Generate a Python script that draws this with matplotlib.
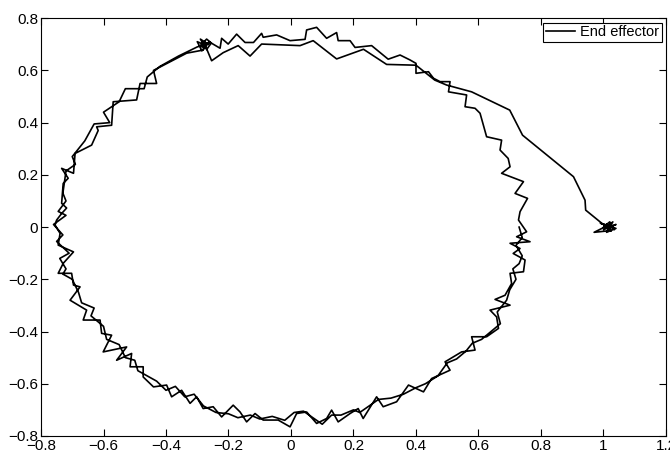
import numpy as np
import matplotlib.pyplot as plt

# End effector path

# start jitter at the right, then the approach to the top of the circle
approach_x = [1.02, 1.04, 1.00, 1.03, 1.01, 1.04, 0.99, 1.03, 1.02, 0.97, 1.01, 1.03, 1.00, 1.02,
              1.035, 1.01, 1.025, 0.943, 0.941, 0.904, 0.741, 0.70, 0.578, 0.498]
approach_y = [0.00, 0.01, -0.01, 0.02, -0.02, -0.005, 0.015, 0.0, 0.01, -0.02, -0.015, 0.005, 0.0, 0.02,
              -0.01, 0.012, -0.015, 0.065, 0.103, 0.193, 0.352, 0.448, 0.518, 0.544]

# smoother inner line across the top
top_inner_x = [0.46, 0.40, 0.306, 0.232, 0.146, 0.071, 0.029, -0.094, -0.131, -0.169, -0.217, -0.254, -0.275]
top_inner_y = [0.563, 0.62, 0.623, 0.681, 0.644, 0.714, 0.695, 0.701, 0.655, 0.695, 0.668, 0.637, 0.697]

# tangle near the top left
knot_x = [-0.26, -0.285, -0.265, -0.29, -0.27, -0.255, -0.28, -0.30, -0.285, -0.27]
knot_y = [0.71, 0.69, 0.70, 0.72, 0.68, 0.705, 0.70, 0.71, 0.675, 0.70]

# first lap: left, bottom, right, outer top
lap1_x = [-0.281, -0.334, -0.387, -0.44, -0.43, -0.483, -0.494, -0.569, -0.574, -0.622, -0.617, -0.638,
          -0.691, -0.696, -0.734, -0.713, -0.729, -0.734, -0.718, -0.734, -0.75, -0.755, -0.739, -0.745,
          -0.696, -0.729, -0.745, -0.702, -0.696, -0.675, -0.707, -0.654, -0.665, -0.611, -0.606, -0.574,
          -0.601, -0.526, -0.558, -0.51, -0.515, -0.473, -0.473, -0.44, -0.398, -0.382, -0.35, -0.323,
          -0.302, -0.281,
          -0.249, -0.222, -0.185, -0.163, -0.142, -0.115, -0.089, -0.041, -0.003, 0.018, 0.05, 0.082,
          0.114, 0.13, 0.151, 0.189, 0.215, 0.231, 0.274, 0.295, 0.338, 0.376, 0.424, 0.45, 0.509,
          0.493, 0.546, 0.589, 0.578, 0.626, 0.664, 0.658, 0.637, 0.701, 0.653, 0.685, 0.706, 0.701,
          0.744, 0.749, 0.711, 0.733, 0.701, 0.765, 0.722, 0.754, 0.728, 0.733, 0.757, 0.717, 0.744,
          0.674, 0.701, 0.695, 0.669, 0.674, 0.626, 0.605, 0.589, 0.557, 0.562, 0.504, 0.509, 0.477,
          0.456, 0.44, 0.40, 0.40, 0.381, 0.349, 0.311, 0.258, 0.205, 0.189, 0.151, 0.146, 0.114,
          0.082, 0.05, 0.045, -0.003, -0.046, -0.089, -0.094, -0.12, -0.147, -0.174, -0.201, -0.222,
          -0.227, -0.254, -0.27, -0.29, -0.275]
lap1_y = [0.678, 0.666, 0.633, 0.60, 0.55, 0.55, 0.487, 0.48, 0.39, 0.384, 0.37, 0.314,
          0.282, 0.206, 0.225, 0.187, 0.167, 0.091, 0.073, 0.052, 0.027, 0.008, -0.024, -0.069,
          -0.095, -0.139, -0.177, -0.177, -0.222, -0.229, -0.28, -0.318, -0.356, -0.356, -0.407, -0.414,
          -0.478, -0.459, -0.51, -0.484, -0.535, -0.535, -0.574, -0.612, -0.605, -0.65, -0.625, -0.675,
          -0.65, -0.695,
          -0.688, -0.727, -0.682, -0.708, -0.746, -0.714, -0.739, -0.739, -0.765, -0.714, -0.708, -0.752,
          -0.733, -0.701, -0.746, -0.714, -0.695, -0.733, -0.65, -0.688, -0.669, -0.605, -0.631, -0.58, -0.548,
          -0.516, -0.478, -0.471, -0.42, -0.42, -0.388, -0.344, -0.318, -0.299, -0.277, -0.261, -0.216, -0.177,
          -0.171, -0.126, -0.101, -0.082, -0.062, -0.056, -0.037, -0.018, 0.027, 0.059, 0.11, 0.129, 0.174,
          0.206, 0.231, 0.263, 0.295, 0.333, 0.346, 0.436, 0.455, 0.461, 0.506, 0.518, 0.557, 0.557,
          0.57, 0.595, 0.589, 0.627, 0.64, 0.659, 0.643, 0.695, 0.688, 0.714, 0.714, 0.745, 0.723,
          0.765, 0.755, 0.719, 0.714, 0.736, 0.727, 0.742, 0.707, 0.707, 0.739, 0.701, 0.723,
          0.685, 0.704, 0.72, 0.695, 0.70]

# second lap: left, bottom, lower right
lap2_x = [-0.30, -0.36, -0.42, -0.46, -0.47, -0.53, -0.55, -0.60, -0.58, -0.63, -0.66, -0.70, -0.69,
          -0.72, -0.73, -0.72, -0.745, -0.72, -0.76, -0.73, -0.75, -0.71, -0.74, -0.72, -0.73, -0.70,
          -0.68, -0.67, -0.63, -0.64, -0.60, -0.59, -0.55, -0.53, -0.50, -0.49, -0.46, -0.43, -0.40,
          -0.37, -0.34, -0.31, -0.28, -0.24, -0.20, -0.17, -0.13, -0.10, -0.06, -0.02, 0.01, 0.04,
          0.07, 0.10, 0.13, 0.16, 0.20, 0.22, 0.25, 0.28, 0.32, 0.36, 0.40, 0.43, 0.47, 0.50, 0.53,
          0.56, 0.58, 0.61, 0.64, 0.67, 0.66, 0.69, 0.70, 0.72, 0.71, 0.73, 0.74, 0.72, 0.74, 0.73]
lap2_y = [0.69, 0.655, 0.615, 0.575, 0.53, 0.53, 0.48, 0.44, 0.40, 0.395, 0.33, 0.27, 0.24,
          0.215, 0.13, 0.10, 0.06, 0.045, 0.01, -0.03, -0.055, -0.10, -0.12, -0.16, -0.18, -0.20,
          -0.25, -0.29, -0.31, -0.34, -0.38, -0.43, -0.45, -0.50, -0.51, -0.55, -0.57, -0.59, -0.625,
          -0.61, -0.65, -0.64, -0.685, -0.71, -0.715, -0.73, -0.72, -0.735, -0.725, -0.74, -0.71, -0.705,
          -0.73, -0.755, -0.72, -0.72, -0.70, -0.71, -0.685, -0.66, -0.655, -0.64, -0.615, -0.60, -0.57,
          -0.52, -0.505, -0.475, -0.445, -0.43, -0.40, -0.37, -0.325, -0.28, -0.24, -0.20, -0.16, -0.14,
          -0.11, -0.07, -0.04, 0.0]

x = np.concatenate([approach_x, top_inner_x, knot_x, lap1_x, lap2_x])
y = np.concatenate([approach_y, top_inner_y, knot_y, lap1_y, lap2_y])

plt.rcParams['font.family'] = ['Liberation Sans', 'DejaVu Sans']
plt.rcParams['font.size'] = 11

fig = plt.figure(figsize=(6.7, 4.55), dpi=100)
ax = fig.add_axes([0.0612, 0.0418, 0.9328, 0.9182])

ax.plot(x, y, color='black', linewidth=1.2, label='End effector')

ax.set_xlim(-0.8, 1.2)
ax.set_ylim(-0.8, 0.8)
ax.set_xticks(np.arange(-0.8, 1.21, 0.2))
ax.set_yticks(np.arange(-0.8, 0.81, 0.2))
ax.set_xticklabels(['\u22120.8', '\u22120.6', '\u22120.4', '\u22120.2', '0', '0.2', '0.4', '0.6', '0.8', '1', '1.2'])
ax.set_yticklabels(['\u22120.8', '\u22120.6', '\u22120.4', '\u22120.2', '0', '0.2', '0.4', '0.6', '0.8'])
ax.tick_params(direction='in', top=True, right=True, length=5, width=0.8, pad=2)
for s in ax.spines.values():
	s.set_linewidth(0.8)

leg = ax.legend(loc='upper right', fancybox=False, edgecolor='black', framealpha=1,
                borderaxespad=0.3, borderpad=0.2, handlelength=2.0, handletextpad=0.3,
                fontsize=10.5)
leg.get_frame().set_linewidth(0.8)

fig.savefig('out.png', dpi=100)
